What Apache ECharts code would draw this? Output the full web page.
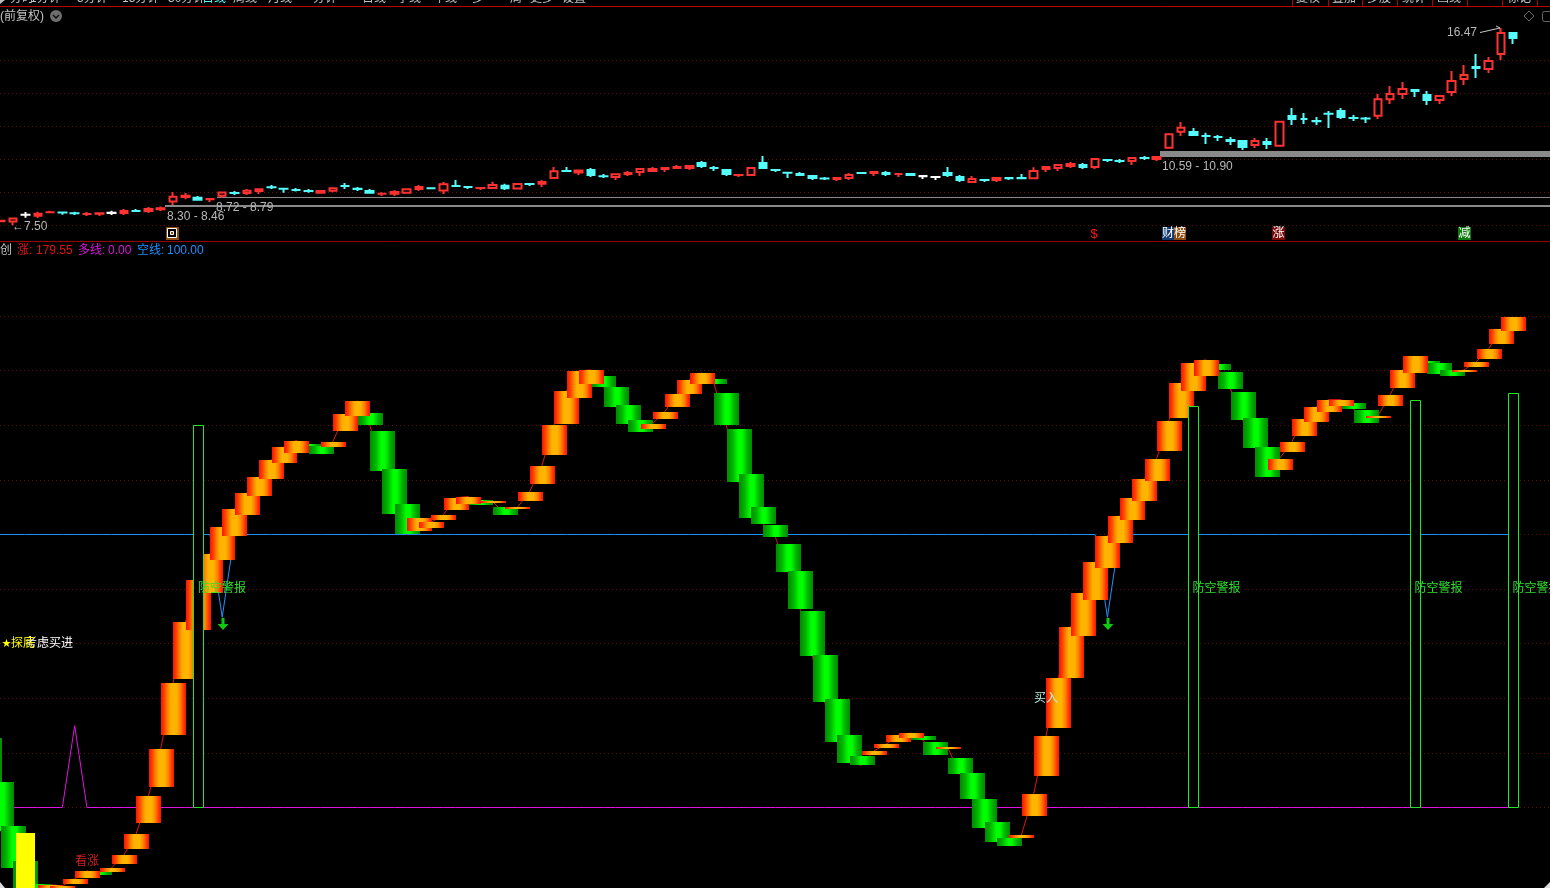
<!DOCTYPE html>
<html>
<head>
<meta charset="utf-8">
<style>html,body{margin:0;padding:0;background:#000}#main{width:1550px;height:888px}</style>
<script src="https://cdn.jsdelivr.net/npm/echarts@6/dist/echarts.min.js"></script>
</head>
<body>
<div id="main"></div>
<script>
// Price candles: [open, close, low, high]; the first row sits just off the left edge.
var candles = [
[7.62,7.70,7.62,7.74],[7.64,7.75,7.64,7.75],[7.63,7.85,7.50,7.85],[7.94,8.01,7.84,8.10],[7.89,8.07,7.83,8.12],
[8.05,8.14,8.05,8.16],[8.10,8.06,7.98,8.10],[8.07,8.03,7.97,8.12],[7.97,8.06,7.92,8.10],[7.98,8.09,7.92,8.09],
[8.03,8.10,7.97,8.16],[8.01,8.19,7.97,8.24],[8.18,8.12,8.12,8.24],[8.10,8.29,8.06,8.33],[8.19,8.32,8.15,8.36],
[8.54,8.84,8.42,9.01],[8.74,8.89,8.68,8.97],[8.80,8.62,8.62,8.83],[8.65,8.73,8.56,8.73],[8.80,9.04,8.75,9.04],
[9.00,8.94,8.88,9.06],[8.92,9.12,8.88,9.15],[9.01,9.18,8.92,9.18],[9.25,9.21,9.15,9.33],[9.18,9.14,8.98,9.21],
[9.14,9.07,9.04,9.19],[9.09,9.03,8.98,9.15],[8.94,9.10,8.94,9.10],[9.03,9.23,9.00,9.23],[9.32,9.25,9.15,9.42],
[9.19,9.12,9.06,9.24],[9.10,8.94,8.94,9.15],[8.89,8.97,8.83,9.00],[8.89,9.06,8.83,9.10],[8.94,9.18,8.94,9.18],
[9.10,9.29,9.06,9.33],[9.21,9.16,9.16,9.21],[9.04,9.41,8.92,9.47],[9.32,9.25,9.25,9.56],[9.27,9.21,9.15,9.27],
[9.16,9.23,9.10,9.23],[9.15,9.38,9.15,9.48],[9.34,9.14,9.10,9.39],[9.13,9.42,9.13,9.42],[9.41,9.34,9.29,9.41],
[9.34,9.51,9.24,9.56],[9.60,10.00,9.60,10.15],[10.01,9.92,9.92,10.15],[9.86,10.04,9.79,10.04],[10.06,9.74,9.69,10.10],
[9.75,9.71,9.65,9.83],[9.65,9.86,9.56,9.86],[9.79,9.92,9.74,9.97],[9.88,10.10,9.74,10.10],[9.92,10.10,9.92,10.15],
[10.01,10.15,9.92,10.15],[10.06,10.19,10.06,10.24],[10.06,10.24,10.01,10.24],[10.38,10.15,10.10,10.42],[10.15,10.06,9.97,10.19],
[10.06,9.79,9.74,10.06],[9.74,9.83,9.69,9.83],[9.74,10.15,9.74,10.15],[10.38,10.06,10.06,10.65],[10.06,9.97,9.92,10.06],
[9.92,9.86,9.65,9.92],[9.88,9.74,9.74,9.92],[9.79,9.60,9.56,9.79],[9.66,9.60,9.56,9.69],[9.56,9.69,9.51,9.69],
[9.60,9.83,9.56,9.88],[9.92,9.83,9.83,9.92],[9.83,9.97,9.74,9.97],[9.92,9.79,9.74,9.97],[9.79,9.88,9.69,9.88],
[9.88,9.74,9.74,9.88],[9.79,9.69,9.60,9.79],[9.74,9.65,9.56,9.74],[9.92,9.74,9.69,10.15],[9.74,9.51,9.47,9.79],
[9.42,9.65,9.42,9.74],[9.60,9.51,9.47,9.60],[9.51,9.69,9.47,9.69],[9.69,9.60,9.56,9.69],[9.69,9.60,9.60,9.83],
[9.59,10.01,9.59,10.14],[10.01,10.19,9.92,10.19],[10.06,10.29,9.97,10.29],[10.15,10.33,10.10,10.38],[10.29,10.10,10.06,10.33],
[10.10,10.56,10.06,10.56],[10.51,10.42,10.38,10.51],[10.47,10.38,10.33,10.51],[10.38,10.60,10.24,10.60],[10.60,10.51,10.47,10.65],
[10.47,10.65,10.42,10.65],[10.98,11.68,10.98,11.68],[11.71,11.98,11.56,12.19],[11.79,11.56,11.56,11.92],[11.60,11.51,11.19,11.71],
[11.56,11.47,11.33,11.60],[11.42,11.29,11.15,11.51],[11.38,11.01,10.92,11.38],[11.10,11.38,11.01,11.47],[11.33,11.15,10.97,11.47],
[11.07,12.25,11.07,12.25],[12.51,12.29,12.06,12.83],[12.38,12.29,12.10,12.60],[12.29,12.19,12.06,12.42],[12.62,12.53,11.92,12.69],
[12.74,12.38,12.33,12.83],[12.42,12.33,12.24,12.51],[12.38,12.33,12.15,12.42],[12.44,13.27,12.33,13.47],[13.19,13.51,13.01,13.83],
[13.42,13.74,13.24,14.01],[13.69,13.56,13.33,13.69],[13.47,13.15,12.97,13.60],[13.15,13.42,13.01,13.42],[13.51,14.10,13.38,14.51],
[14.10,14.38,13.88,14.79],[14.74,14.60,14.19,15.29],[14.56,15.01,14.42,15.15],[15.24,16.29,15.01,16.47],[16.29,15.97,15.74,16.29]
];
var whiteCandles = [3, 10, 76, 77];
// Support zones: [first bar, low, high]
var priceZones = [[14.37, 8.34, 8.42], [18.55, 8.75, 8.79], [95.28, 10.60, 10.88]];

// Indicator blocks
var blockOpen = [
25.4,9.3,-6.8,-19.6,-28.0,-29.8,-29.8,-28.0,-25.8,-23.6,-23.6,-20.7,-15.2,-5.7,7.5,26.5,47.0,64.9,78.8,90.5,
99.6,107.3,114.3,120.5,126.3,130.0,133.3,132.5,132.2,138.0,143.5,144.6,138.0,124.1,111.0,101.5,102.2,105.5,109.1,111.3,
112.8,111.3,110.2,109.1,112.4,118.6,129.2,140.6,150.1,155.2,158.1,154.1,147.5,142.0,138.8,142.4,146.8,151.5,155.2,157.0,
151.9,138.8,122.3,110.2,103.3,96.7,86.5,71.8,55.8,39.7,26.5,18.8,19.2,21.8,23.9,25.4,26.1,23.9,21.4,18.1,
12.6,3.1,-5.3,-11.2,-11.2,-3.1,11.5,29.1,47.3,62.8,76.2,87.9,97.1,105.1,112.4,119.7,130.7,142.8,152.6,158.1,
162.5,159.6,152.3,142.8,132.2,123.8,130.3,136.2,141.3,145.0,147.2,148.3,145.7,142.8,147.2,153.8,159.2,163.6,162.9,160.3,
159.6,161.4,164.3,169.8,174.6
];
var blockClose = [
9.3,-8.6,-22.1,-35.6,-30.2,-28.3,-28.7,-26.1,-23.2,-24.7,-22.1,-17.4,-9.7,4.2,21.4,45.5,67.8,83.2,93.0,102.6,
109.5,115.3,121.2,127.4,132.2,134.4,132.7,129.6,134.0,144.2,149.0,140.2,123.4,107.7,100.0,106.2,104.4,107.3,113.5,113.9,
111.0,112.1,107.3,109.9,115.7,125.2,140.2,152.6,160.0,160.3,154.1,146.8,140.6,137.7,140.6,145.0,151.5,156.7,159.2,155.2,
140.2,119.4,106.2,104.0,98.9,86.5,72.6,55.4,38.6,23.9,16.3,15.5,20.7,23.2,26.5,27.2,24.7,19.2,22.1,12.2,
3.1,-7.5,-12.6,-14.0,-10.1,4.9,26.1,47.3,66.0,78.4,90.1,99.6,106.9,113.2,120.5,127.8,141.7,155.6,162.9,164.0,
160.3,153.4,142.0,131.8,121.2,127.8,134.0,142.4,146.8,149.4,149.4,146.1,141.0,143.5,151.2,160.3,165.4,161.8,158.9,158.1,
160.3,163.2,168.0,175.3,179.55
];
var bullLine = [
0,0,0,0,0,0,0,30,0,0,0,0,0,0,0,0,0,0,0,0,0,0,0,0,0,
0,0,0,0,0,0,0,0,0,0,0,0,0,0,0,0,0,0,0,0,0,0,0,0,0,
0,0,0,0,0,0,0,0,0,0,0,0,0,0,0,0,0,0,0,0,0,0,0,0,0,
0,0,0,0,0,0,0,0,0,0,0,0,0,0,0,0,0,0,0,0,0,0,0,0,0,
0,0,0,0,0,0,0,0,0,0,0,0,0,0,0,0,0,0,0,0,0,0,0,0,0
];
var bearLine = [
100,100,100,100,100,100,100,100,100,100,100,100,100,100,100,100,100,100,100,69.7,100,100,100,100,100,
100,100,100,100,100,100,100,100,100,100,100,100,100,100,100,100,100,100,100,100,100,100,100,100,100,
100,100,100,100,100,100,100,100,100,100,100,100,100,100,100,100,100,100,100,100,100,100,100,100,100,
100,100,100,100,100,100,100,100,100,100,100,100,100,100,100,100,69.7,100,100,100,100,100,100,100,100,
100,100,100,100,100,100,100,100,100,100,100,100,100,100,100,100,100,100,100,100,100,100,100,100,100
];
var alarmBars = [17, 98, 116, 124];
var alarmTops = [139.9, 146.8, 149.0, 151.5];
var arrowBars = [19, 91];
var arrowValues = [69.7, 69.7];
var yellowBar = [3, -9.3, -40];
var legendValues = ['179.55', '0.00', '100.00'];

// Visible bar window on the shared time axis
var barMin = 0.9268, barMax = 127.0;

var CJK = '"Liberation Sans","Noto Sans CJK SC",sans-serif';
var RED = '#ff3232', CYAN = '#54fcfc', GRID = '#5e1010';
// Half the body border, in price units, so the stroked outline keeps the read body height.
var borderInset = 0.045;

function indexed(values) { return values.map(function (v, i) { return [i, v]; }); }
function candleItem(row, i) {
  var up = row[1] >= row[0];
  var top = Math.max(row[0], row[1]), bottom = Math.min(row[0], row[1]);
  var t = top - borderInset, b = bottom + borderInset;
  if (t <= b) { var mid = (top + bottom) / 2; t = mid + 0.001; b = mid - 0.001; }
  var value = [i, up ? b : t, up ? t : b, row[2], row[3]];
  if (whiteCandles.indexOf(i) >= 0) {
    return {value: value, itemStyle: {color: '#fff', color0: '#fff', borderColor: '#fff', borderColor0: '#fff'}};
  }
  return value;
}
var orangeFill = new echarts.graphic.LinearGradient(0, 0, 1, 0, [
  {offset: 0, color: '#ff1000'}, {offset: .12, color: '#ff3c00'}, {offset: .26, color: '#ff8000'},
  {offset: .4, color: '#ffb400'}, {offset: .62, color: '#ffb400'}, {offset: .78, color: '#ff8000'},
  {offset: .9, color: '#ff3c00'}, {offset: 1, color: '#ff1000'}
]);
var greenFill = new echarts.graphic.LinearGradient(0, 0, 1, 0, [
  {offset: 0, color: '#008a00'}, {offset: .22, color: '#00b400'}, {offset: .45, color: '#00ff00'},
  {offset: .6, color: '#00ff00'}, {offset: .8, color: '#00b400'}, {offset: 1, color: '#008a00'}
]);
function renderBlock(params, api) {
  var a = api.coord([api.value(0), api.value(1)]);
  var b = api.coord([api.value(0), api.value(2)]);
  var top = Math.round(Math.min(a[1], b[1]));
  var h = Math.max(2, Math.round(Math.abs(a[1] - b[1])));
  return {type: 'rect', shape: {x: Math.round(a[0] - 12), y: top, width: 25, height: h},
    style: {fill: api.value(2) >= api.value(1) ? orangeFill : greenFill}};
}
function renderAlarm(params, api) {
  var a = api.coord([api.value(0), api.value(1)]);
  var b = api.coord([api.value(0), 0]);
  return {type: 'rect',
    shape: {x: Math.round(a[0] - 5) + 0.5, y: Math.floor(a[1]) + 0.5, width: 10, height: Math.floor(b[1]) - Math.floor(a[1])},
    style: {fill: '#000', stroke: '#1fe81f', lineWidth: 1}};
}
function renderYellow(params, api) {
  var a = api.coord([api.value(0), api.value(1)]);
  var b = api.coord([api.value(0), api.value(2)]);
  return {type: 'rect', shape: {x: Math.round(a[0] - 9.5), y: Math.round(a[1]), width: 19, height: b[1] - a[1]}, style: {fill: '#ffff00'}};
}
function renderArrow(params, api) {
  var a = api.coord([api.value(0), api.value(1)]);
  var x = Math.round(a[0]) + 0.5, y = Math.round(a[1]) + 1;
  return {type: 'group', children: [
    {type: 'rect', shape: {x: x - 1, y: y, width: 3, height: 7}, style: {fill: '#10c810'}},
    {type: 'polygon', shape: {points: [[x - 5, y + 6], [x + 6, y + 6], [x + 0.5, y + 12]]}, style: {fill: '#10c810'}}
  ]};
}
function renderZone(params, api) {
  var a = api.coord([api.value(0), api.value(2)]);
  var b = api.coord([api.value(0), api.value(1)]);
  return {type: 'rect', shape: {x: Math.round(a[0]), y: Math.round(a[1]), width: 1600, height: Math.max(1, Math.round(b[1] - a[1]))},
    style: {fill: '#8a8a8a'}};
}

function txt(text, x, y, fill, size) {
  return {type: 'text', z: 1000, silent: true, style: {text: text, x: x, y: y, fill: fill,
    font: (size || 12) + 'px ' + CJK, textVerticalAlign: 'middle'}};
}
function box(x, w, fill) {
  return {type: 'rect', z: 999, silent: true, shape: {x: x, y: 227, width: w, height: 13}, style: {fill: fill}};
}
function vline(x) {
  return {type: 'line', z: 1000, silent: true, shape: {x1: x, y1: 0, x2: x, y2: 6}, style: {stroke: '#b00000', lineWidth: 1}};
}
var graphics = [
  {type: 'line', z: 1000, silent: true, shape: {x1: 0, y1: 6.5, x2: 1550, y2: 6.5}, style: {stroke: '#c00000', lineWidth: 1}},
  {type: 'line', z: 1000, silent: true, shape: {x1: 0, y1: 241.5, x2: 1550, y2: 241.5}, style: {stroke: '#9a0000', lineWidth: 1}},
  txt('(前复权)', 0, 16.5, '#c4c4c4', 12),
  {type: 'circle', z: 1000, silent: true, shape: {cx: 56, cy: 16, r: 6}, style: {fill: '#6e6e6e'}},
  {type: 'polyline', z: 1001, silent: true, shape: {points: [[53, 15], [56, 18], [59, 15]]}, style: {stroke: '#111', fill: 'none', lineWidth: 1.5}},
  {type: 'polygon', z: 1000, silent: true, shape: {points: [[1529, 11], [1534, 16], [1529, 21], [1524, 16]]}, style: {stroke: '#666', fill: 'none', lineWidth: 1}},
  {type: 'rect', z: 1000, silent: true, shape: {x: 1542.5, y: 11.5, width: 12, height: 10, r: 2}, style: {stroke: '#666', fill: 'none', lineWidth: 1}},
  txt('16.47', 1447, 33, '#b8b8b8', 12),
  {type: 'polyline', z: 1000, silent: true, shape: {points: [[1480, 32.5], [1500, 28], [1496, 26]]}, style: {stroke: '#c8c8c8', fill: 'none', lineWidth: 1}},
  txt('←7.50', 12, 226.5, '#b8b8b8', 12),
  txt('8.30 - 8.46', 167, 216.5, '#b8b8b8', 12),
  txt('8.72 - 8.79', 216, 207.5, '#b8b8b8', 12),
  txt('10.59 - 10.90', 1162, 167, '#b8b8b8', 12),
  box(166, 13, '#8a4a10'),
  {type: 'rect', z: 1000, silent: true, shape: {x: 167.5, y: 228.5, width: 9, height: 9}, style: {fill: '#000', stroke: '#fff', lineWidth: 1}},
  {type: 'rect', z: 1000, silent: true, shape: {x: 170.5, y: 231.5, width: 3, height: 3}, style: {fill: '#8a4a10', stroke: '#fff', lineWidth: 1}},
  txt('$', 1090.5, 234.5, '#ff1a1a', 13),
  box(1162, 12, '#123a6e'), txt('财', 1162, 234, '#fff', 12),
  box(1174, 12, '#8a4a10'), txt('榜', 1174, 234, '#fff', 12),
  box(1272, 13, '#7a0a0a'), txt('涨', 1272.5, 234, '#fff', 12),
  box(1458, 13, '#0f7a0f'), txt('减', 1458.5, 234, '#fff', 12),
  txt('创', 0, 250.5, '#c4c4c4', 12),
  txt('涨:', 17, 250.5, '#e01414', 12), txt(legendValues[0], 36, 250.5, '#e01414', 12),
  txt('多线:', 78, 250.5, '#e014e0', 12), txt(legendValues[1], 108, 250.5, '#e014e0', 12),
  txt('空线:', 137, 250.5, '#1e90ff', 12), txt(legendValues[2], 167, 250.5, '#1e90ff', 12),
  txt('考虑买进', 25, 643.5, '#fff', 12),
  txt('★', 2, 643.5, '#ffff00', 9),
  txt('探底', 11, 643.5, '#ffff00', 12),
  txt('看涨', 75, 862, '#c82020', 12),
  txt('买入', 1034, 698.5, '#b4f0e0', 12),
  txt('防空警报', 198, 588.5, '#30e030', 12),
  txt('防空警报', 1192.5, 588.5, '#30e030', 12),
  txt('防空警报', 1414.5, 588.5, '#30e030', 12),
  txt('防空警报', 1512.5, 588.5, '#30e030', 12),
  {type: 'polygon', z: 1000, silent: true, shape: {points: [[0, 0], [5, 0], [0, 4]]}, style: {fill: '#bbb'}},
  {type: 'polygon', z: 1000, silent: true, shape: {points: [[0, 882], [0, 888], [5, 888]]}, style: {fill: '#ddd'}},
  {type: 'polygon', z: 1000, silent: true, shape: {points: [[1550, 882], [1550, 888], [1544, 888]]}, style: {fill: '#ddd'}}
];
[['分时', 10], ['1分钟', 30], ['5分钟', 77], ['15分钟', 122], ['30分钟', 168], ['日线', 202, '#54fcfc'], ['周线', 233], ['月线', 268],
 ['分钟', 313], ['日线', 362], ['季线', 397], ['年线', 433], ['多', 472], ['周', 510], ['更多', 530], ['设置', 562]].forEach(function (t) {
  graphics.push(txt(t[0], t[1], -1, t[2] || '#c4c4c4', 12));
});
[['复权', 1296], ['叠加', 1332], ['多股', 1367], ['统计', 1402], ['画线', 1437], ['标记', 1507]].forEach(function (t) {
  graphics.push(txt(t[0], t[1], -1, '#c4c4c4', 12));
});
[1292, 1328, 1362, 1397, 1432, 1467, 1502, 1537].forEach(function (x) { graphics.push(vline(x + 0.5)); });

var blockData = blockOpen.map(function (o, i) { return [i, o, blockClose[i]]; });
var greenBlocks = blockData.filter(function (d) { return d[2] < d[1]; });
var orangeBlocks = blockData.filter(function (d) { return d[2] >= d[1]; });
var dots = {color: GRID, width: 1, type: [1, 3]};

var chart = echarts.init(document.getElementById('main'), null, {renderer: 'canvas'});
chart.setOption({
  backgroundColor: '#000',
  animation: false,
  grid: [
    {left: 0, top: 27.3, width: 1550, height: 198},
    {left: 0, top: 316.1, width: 1550, height: 546}
  ],
  xAxis: [
    {type: 'value', gridIndex: 0, min: barMin, max: barMax, show: false, splitLine: {show: false}},
    {type: 'value', gridIndex: 1, min: barMin, max: barMax, show: false, splitLine: {show: false}}
  ],
  yAxis: [
    {type: 'value', gridIndex: 0, min: 7.5, max: 16.5, interval: 1.5, axisLine: {show: false}, axisTick: {show: false}, axisLabel: {show: false},
      splitLine: {show: true, showMinLine: true, showMaxLine: false, lineStyle: dots}},
    {type: 'value', gridIndex: 1, min: -20, max: 180, interval: 20, axisLine: {show: false}, axisTick: {show: false}, axisLabel: {show: false},
      splitLine: {show: true, showMinLine: false, showMaxLine: true, lineStyle: dots}}
  ],
  graphic: {elements: graphics},
  series: [
    {type: 'custom', name: '筹码区', xAxisIndex: 0, yAxisIndex: 0, z: 2, renderItem: renderZone, encode: {x: 0, y: [1, 2]},
      data: priceZones, silent: true},
    {type: 'candlestick', name: 'K线', xAxisIndex: 0, yAxisIndex: 0, z: 3, barWidth: 8, silent: true, clip: false,
      encode: {x: 0, y: [1, 2, 3, 4]},
      itemStyle: {color: '#000', color0: CYAN, borderColor: RED, borderColor0: CYAN, borderWidth: 2},
      data: candles.map(candleItem)},
    {type: 'line', name: '多线', xAxisIndex: 1, yAxisIndex: 1, z: 2, data: indexed(bullLine), symbol: 'none', silent: true, clip: false,
      lineStyle: {color: '#e014e0', width: 1}},
    {type: 'line', name: '空线', xAxisIndex: 1, yAxisIndex: 1, z: 2, data: indexed(bearLine), symbol: 'none', silent: true, clip: false,
      lineStyle: {color: '#1e90ff', width: 1}},
    {type: 'line', name: '张', xAxisIndex: 1, yAxisIndex: 1, z: 3, data: indexed(blockClose), symbol: 'none', silent: true, clip: false,
      lineStyle: {color: '#e01414', width: 1}},
    {type: 'custom', name: '跌', xAxisIndex: 1, yAxisIndex: 1, z: 4, renderItem: renderBlock, encode: {x: 0, y: [1, 2]}, data: greenBlocks, silent: true},
    {type: 'custom', name: '涨', xAxisIndex: 1, yAxisIndex: 1, z: 5, renderItem: renderBlock, encode: {x: 0, y: [1, 2]}, data: orangeBlocks, silent: true},
    {type: 'custom', name: '探底', xAxisIndex: 1, yAxisIndex: 1, z: 6, renderItem: renderYellow, encode: {x: 0, y: [1, 2]}, data: [yellowBar], silent: true},
    {type: 'custom', name: '防空警报', xAxisIndex: 1, yAxisIndex: 1, z: 7, renderItem: renderAlarm, encode: {x: 0, y: 1},
      data: alarmBars.map(function (b, i) { return [b, alarmTops[i]]; }), silent: true},
    {type: 'custom', name: '箭头', xAxisIndex: 1, yAxisIndex: 1, z: 8, renderItem: renderArrow, encode: {x: 0, y: 1},
      data: arrowBars.map(function (b, i) { return [b, arrowValues[i]]; }), silent: true}
  ]
});
</script>
</body>
</html>
